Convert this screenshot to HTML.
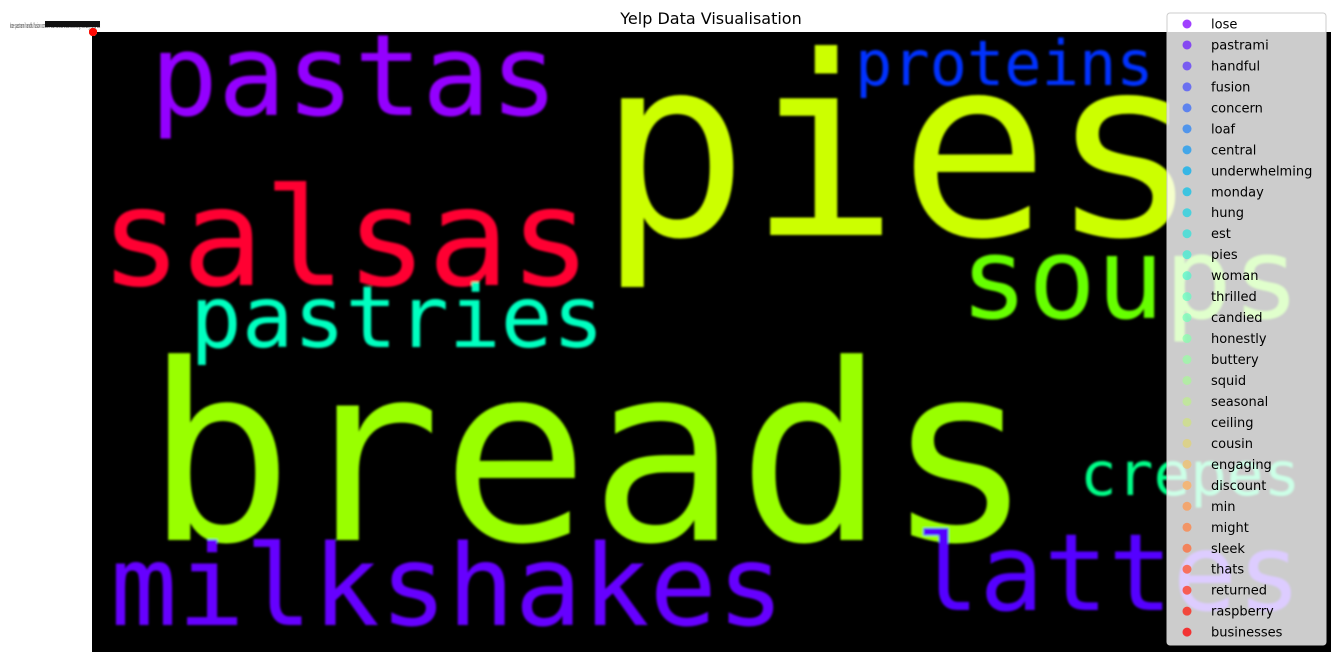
<!DOCTYPE html>
<html><head><meta charset="utf-8"><style>
body{margin:0;width:1341px;height:662px;background:#fff;overflow:hidden;position:relative;font-family:"Liberation Sans","DejaVu Sans",sans-serif}
</style></head><body>
<svg width="1341" height="662" style="position:absolute;left:0;top:0">
<text x="711" y="24" text-anchor="middle" font-size="16" font-family="DejaVu Sans, sans-serif" fill="#000">Yelp Data Visualisation</text>
<rect x="92" y="32" width="1239" height="620" fill="#000"/>
<g id="words" font-family="DejaVu Sans Mono, Liberation Mono, monospace" filter="url(#blur)"></g>
<defs><filter id="blur"><feGaussianBlur stdDeviation="1"/></filter></defs>
<g>
<text x="10" y="28" font-size="7" fill="#333" textLength="90" lengthAdjust="spacingAndGlyphs">lose pastrami handful fusion concern loaf central underwhelming monday hung est</text>
<rect x="45" y="21" width="55" height="6" fill="#111"/>
</g>
<g id="pts"></g>
<rect x="1167" y="13" width="159" height="632" rx="3" fill="rgba(255,255,255,0.8)" stroke="#ccc"/>
<g id="legend" font-size="13" font-family="DejaVu Sans, sans-serif"></g>
</svg>
<script>
const words=["pastas","pies","salsas","soups","proteins","pastries","breads","crepes","milkshakes","lattes"];
const wordSizes=[113,250,136,113,62,86,246,61,112,107];
const wordX=[150,598,100,960,855,190,145,1080,110,915];
const wordY=[115,235,285,318,85,347,540,495,625,610];
const wordColors=["#9400ff","#ccff00","#ff0033","#66ff00","#0033ff","#00ffc0","#99ff00","#00ff88","#6600ff","#5500ff"];
const labels=["lose","pastrami","handful","fusion","concern","loaf","central","underwhelming","monday","hung","est","pies","woman","thrilled","candied","honestly","buttery","squid","seasonal","ceiling","cousin","engaging","discount","min","might","sleek","thats","returned","raspberry","businesses"];
const NS="http://www.w3.org/2000/svg";
const wg=document.getElementById('words');
words.forEach((w,i)=>{
 const t=document.createElementNS(NS,'text');
 t.setAttribute('x',wordX[i]);t.setAttribute('y',wordY[i]);
 t.setAttribute('font-size',wordSizes[i]);t.setAttribute('fill',wordColors[i]);
 t.textContent=w;
 
 
 wg.appendChild(t);
});
function cl(v){return Math.max(0,Math.min(1,v));}
function rainbow(x){const r=cl(Math.abs(2*x-0.5)),g=cl(Math.sin(Math.PI*x)),b=cl(Math.cos(Math.PI*x/2));
 return `rgba(${Math.round(r*255)},${Math.round(g*255)},${Math.round(b*255)},0.75)`;}
const lg=document.getElementById('legend');
const pg=document.getElementById('pts');
labels.forEach((l,i)=>{
 const c=rainbow(i/(labels.length-1));
 const y=24+i*20.97;
 const p=document.createElementNS(NS,'circle');
 p.setAttribute('cx',93);p.setAttribute('cy',32);p.setAttribute('r',4);p.setAttribute('fill',c);
 
 
 pg.appendChild(p);
 const m=document.createElementNS(NS,'circle');
 m.setAttribute('cx',1187);m.setAttribute('cy',y);m.setAttribute('r',4.5);m.setAttribute('fill',c);
 
 
 lg.appendChild(m);
 const t=document.createElementNS(NS,'text');
 t.setAttribute('x',1211);t.setAttribute('y',y+4.5);t.textContent=l;t.setAttribute('fill','#000');
 
 
 lg.appendChild(t);
});
</script>
</body></html>
